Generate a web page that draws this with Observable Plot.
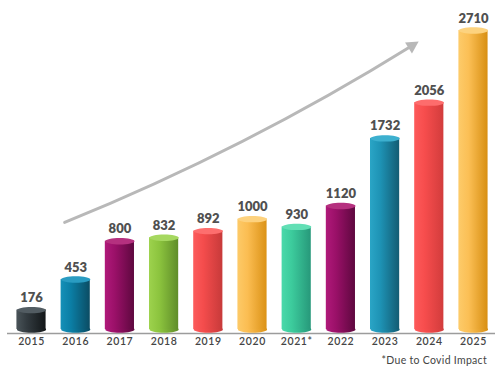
<!DOCTYPE html>
<html>
<head>
<meta charset="utf-8">
<script src="https://cdn.jsdelivr.net/npm/d3@7"></script>
<script src="https://cdn.jsdelivr.net/npm/@observablehq/plot@0.6"></script>
<style>
  html, body { margin: 0; padding: 0; background: #fff; }
  #note { font-family: Lato, sans-serif; font-size: 10.5px; color: #444; text-align: right; padding-right: 14px; margin-top: 2px; letter-spacing: 0.3px; }
</style>
</head>
<body>
<div id="chart"></div>
<div id="note">*Due to Covid Impact</div>
<script>
const years = [2015, 2016, 2017, 2018, 2019, 2020, 2021, 2022, 2023, 2024, 2025];
const values = [176, 453, 800, 832, 892, 1000, 930, 1120, 1732, 2056, 2710];
const yearLabels = ["2015", "2016", "2017", "2018", "2019", "2020", "2021*", "2022", "2023", "2024", "2025"];
const lightColors = ["#4a5459", "#1590b8", "#b0197a", "#9dd24d", "#fc5b5b", "#fdca68", "#4ad9aa", "#b0197a", "#2aa5c6", "#fd5a5a", "#fdcb6a"];
const baseColors  = ["#333b40", "#0b7ea5", "#9a1068", "#8cc43e", "#f44c4c", "#fbbd52", "#3ccb9c", "#9a1068", "#1e93b5", "#f74d4d", "#fbbf55"];
const darkColors  = ["#121618", "#0b4c63", "#5e083f", "#5f8d29", "#c73a3a", "#db9216", "#27987a", "#5e083f", "#135c73", "#d23c3c", "#d88f12"];
const topColors   = ["#525c62", "#2a9cc2", "#b5307f", "#a6d860", "#fd6e6e", "#fdd27e", "#62dfb5", "#b5307f", "#3db0cf", "#fd6c6c", "#fdd37f"];
const trendYears = [2015.75, 2023.76];
const trendValues = [970, 2610];

const data = years.map((year, i) => ({
  i, year, value: values[i], label: yearLabels[i],
  body: `url(#body${i})`, top: topColors[i]
}));
const trend = [{x1: trendYears[0], y1: trendValues[0], x2: trendYears[1], y2: trendValues[1]}];
const labelOf = new Map(years.map((y, i) => [y, yearLabels[i]]));

const K = 0.5523;
const ellipse = {
  draw(ctx) {
    const a = 14.6, b = 3.2, ka = a * K, kb = b * K;
    ctx.moveTo(-a, 0);
    ctx.bezierCurveTo(-a, -kb, -ka, -b, 0, -b);
    ctx.bezierCurveTo(ka, -b, a, -kb, a, 0);
    ctx.bezierCurveTo(a, kb, ka, b, 0, b);
    ctx.bezierCurveTo(-ka, b, -a, kb, -a, 0);
    ctx.closePath();
  }
};
// arrowhead: tip at origin, pointing up
const head = {
  draw(ctx) {
    ctx.moveTo(0, 0);
    ctx.lineTo(6.5, 12);
    ctx.lineTo(-6.5, 12);
    ctx.closePath();
  }
};

const chart = Plot.plot({
  width: 501,
  height: 352,
  marginLeft: 7,
  marginRight: 6,
  marginTop: 30,
  marginBottom: 23,
  style: { fontFamily: "Lato, sans-serif", background: "#fff" },
  x: { domain: [2014.457, 2025.498], ticks: years, tickFormat: d => labelOf.get(d), tickSize: 0, tickPadding: 8, label: null },
  y: { domain: [0, 2710], axis: null },
  color: { type: "identity" },
  marks: [
    Plot.ruleY([0], { stroke: "#9c9c9c", strokeWidth: 1.6, dy: 4 }),
    Plot.dot(data, { x: "year", y: 0, symbol: ellipse, fill: "body" }),
    Plot.rectY(data, { x1: d => d.year - 0.33, x2: d => d.year + 0.33, y1: 0, y2: "value", fill: "body" }),
    Plot.dot(data, { x: "year", y: "value", symbol: ellipse, fill: "top" }),
    Plot.text(data, { x: "year", y: "value", text: d => String(d.value), dy: -8, lineAnchor: "bottom", fontSize: 13, fontWeight: 800, fill: "#505050", style: "letter-spacing:0.7px" }),
    Plot.arrow(trend, { x1: "x1", y1: "y1", x2: "x2", y2: "y2", bend: -5, stroke: "#b8b8b8", strokeWidth: 3, headLength: 0, insetEnd: 8 }),
    Plot.dot(trend, { x: "x2", y: "y2", symbol: head, fill: "#b8b8b8", rotate: 58 })
  ]
});

const svg = d3.select(chart);
svg.selectAll("g[aria-label='x-axis tick label'] text, g[aria-label='x-axis'] text")
  .style("font-size", "10.5px").style("font-weight", "600").style("fill", "#444").style("letter-spacing", "0.6px");
const defs = svg.insert("defs", ":first-child");
data.forEach((d, i) => {
  const g = defs.append("linearGradient").attr("id", `body${i}`).attr("x1", 0).attr("x2", 1).attr("y1", 0).attr("y2", 0);
  g.append("stop").attr("offset", "0%").attr("stop-color", lightColors[i]);
  g.append("stop").attr("offset", "35%").attr("stop-color", baseColors[i]);
  g.append("stop").attr("offset", "100%").attr("stop-color", darkColors[i]);
});
document.getElementById("chart").appendChild(chart);
</script>
</body>
</html>
